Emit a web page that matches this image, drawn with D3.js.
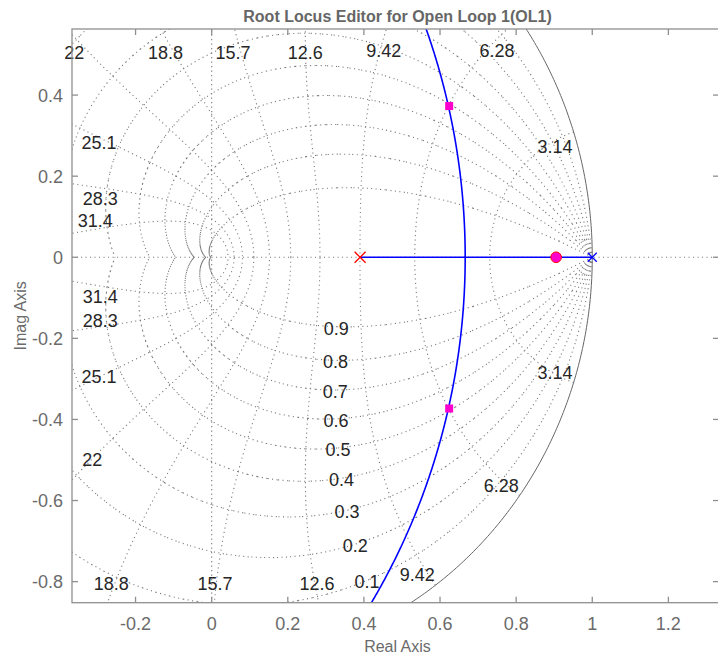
<!DOCTYPE html>
<html><head><meta charset="utf-8">
<script src="https://cdn.jsdelivr.net/npm/d3@7"></script>
<style>
body{margin:0;background:#fff}
svg{display:block}
text{font-family:"Liberation Sans",Arial,Helvetica,sans-serif}
</style>
</head><body>
<svg id="chart" width="718" height="658"></svg>
<script>
// ---------- data ----------
const chartTitle = "Root Locus Editor for Open Loop 1(OL1)";
const xAxisLabel = "Real Axis";
const yAxisLabel = "Imag Axis";
const xDomain = [-0.367, 1.333];
const yDomain = [-0.852, 0.563];
const xTicks = [-0.2, 0, 0.2, 0.4, 0.6, 0.8, 1, 1.2];
const yTicks = [-0.8, -0.6, -0.4, -0.2, 0, 0.2, 0.4];
const xTickLabels = ["-0.2", "0", "0.2", "0.4", "0.6", "0.8", "1", "1.2"];
const yTickLabels = ["-0.8", "-0.6", "-0.4", "-0.2", "0", "0.2", "0.4"];

// z-plane grid (sample time 0.1 s)
const samplePeriod = 0.1;
const dampingValues = [0.1, 0.2, 0.3, 0.4, 0.5, 0.6, 0.7, 0.8, 0.9];
const dampingLabels = ["0.1", "0.2", "0.3", "0.4", "0.5", "0.6", "0.7", "0.8", "0.9"];
const freqSteps = [1, 2, 3, 4, 5, 6, 7, 8, 9, 10];           // wn = k*pi/(10*T)
const freqLabels = ["3.14", "6.28", "9.42", "12.6", "15.7", "18.8", "22", "25.1", "28.3", "31.4"];
const freqLabelUpperRe = [0.902, 0.750, 0.452, 0.246, 0.056, -0.121, -0.361, -0.296, -0.293, -0.306];
const freqLabelUpperIm = [0.272, 0.509, 0.509, 0.506, 0.506, 0.506, 0.506, 0.282, 0.144, 0.090];
const freqLabelLowerRe = [0.902, 0.761, 0.540, 0.277, 0.009, -0.264, -0.314, -0.296, -0.293, -0.293];
const freqLabelLowerIm = [-0.284, -0.564, -0.783, -0.805, -0.805, -0.805, -0.500, -0.293, -0.155, -0.098];

// open loop system
const openLoopPoles = [0.39, 1.0];
const openLoopPoleColors = ["#ff0000", "#0000ff"];
const openLoopZeros = [-0.93];
// closed loop poles (squares) and compensator marker (circle)
const closedLoopRe = [0.624, 0.624];
const closedLoopIm = [0.373, -0.373];
const circleMarkerRe = [0.905];
const circleMarkerIm = [0];

// ---------- layout ----------
const svg = d3.select("#chart");
const L = 72, T = 29, R = 719, B = 602.7;
const x = d3.scaleLinear().domain(xDomain).range([L, R]);
const y = d3.scaleLinear().domain(yDomain).range([B, T]);

svg.append("rect").attr("width", 718).attr("height", 658).attr("fill", "#fff");
svg.append("defs").append("clipPath").attr("id", "clip")
  .append("rect").attr("x", L).attr("y", T).attr("width", R - L).attr("height", B - T);

const plot = svg.append("g").attr("clip-path", "url(#clip)");
const line = d3.line().x(d => x(d[0])).y(d => y(d[1]));
// path whose dash pattern restarts at every vertex
const segPath = pts => pts.slice(1).map((p, i) =>
  `M${x(pts[i][0])},${y(pts[i][1])}L${x(p[0])},${y(p[1])}`).join("");
const gridColor = "#7a7a7a";
const dotted = sel => sel.attr("fill", "none").attr("stroke", gridColor)
  .attr("stroke-width", 1.1).attr("stroke-dasharray", "1.1,3.4");

// axes lines through origin
plot.append("path").datum([[xDomain[0], 0], [xDomain[1], 0]]).attr("d", line).call(dotted);
plot.append("path").datum([[0, yDomain[0]], [0, yDomain[1]]]).attr("d", line).call(dotted);

// constant damping curves
dampingValues.forEach(zeta => {
  const m = zeta / Math.sqrt(1 - zeta * zeta);
  [1, -1].forEach(sgn => {
    const pts = d3.range(0, 73).map(i => {
      const th = Math.PI * i / 72;
      const r = Math.exp(-m * th);
      return [r * Math.cos(th), sgn * r * Math.sin(th)];
    });
    plot.append("path").attr("d", segPath(pts)).call(dotted);
  });
});

// constant natural frequency curves
freqSteps.forEach(k => {
  const wT = k * Math.PI / 10;
  [1, -1].forEach(sgn => {
    const pts = d3.range(0, 301).map(i => {
      const zeta = i / 300;
      const r = Math.exp(-zeta * wT);
      const th = wT * Math.sqrt(1 - zeta * zeta);
      return [r * Math.cos(th), sgn * r * Math.sin(th)];
    });
    plot.append("path").datum(pts).attr("d", line).call(dotted);
  });
});

// unit circle (zeta = 0)
plot.append("path")
  .datum(d3.range(0, 721).map(i => [Math.cos(i * Math.PI / 360), Math.sin(i * Math.PI / 360)]))
  .attr("d", line).attr("fill", "none").attr("stroke", "#666").attr("stroke-width", 1);

// grid labels
const lblG = svg.append("g").attr("font-size", 18).attr("fill", "#262626").attr("text-anchor", "middle");
freqLabels.forEach((t, i) => {
  lblG.append("text").attr("x", x(freqLabelUpperRe[i])).attr("y", y(freqLabelUpperIm[i]))
    .attr("dy", "0.36em").text(t);
  lblG.append("text").attr("x", x(freqLabelLowerRe[i])).attr("y", y(freqLabelLowerIm[i]))
    .attr("dy", "0.36em").text(t);
});
dampingValues.forEach((zeta, i) => {
  const wT = 0.35 * Math.PI;
  const r = Math.exp(-zeta * wT), th = wT * Math.sqrt(1 - zeta * zeta);
  lblG.append("text").attr("x", x(r * Math.cos(th)) - 1).attr("y", y(-r * Math.sin(th)))
    .attr("dy", "0.45em").text(dampingLabels[i]);
});

// ---------- root locus ----------
const p1 = openLoopPoles[0], p2 = openLoopPoles[1], z0 = openLoopZeros[0];
const S = p1 + p2, P = p1 * p2;
// breakaway gains: K^2 + K(4 z0 - 2S) + (S^2 - 4P) = 0
const bb = 4 * z0 - 2 * S, cc = S * S - 4 * P;
const K1 = (-bb - Math.sqrt(bb * bb - 4 * cc)) / 2;
const K2 = (-bb + Math.sqrt(bb * bb - 4 * cc)) / 2;
const roots = K => {
  const b = K - S, c = P - K * z0;
  const disc = b * b - 4 * c;
  if (disc >= 0) {
    const s = Math.sqrt(disc);
    return [[(-b - s) / 2, 0], [(-b + s) / 2, 0]];
  }
  const s = Math.sqrt(-disc);
  return [[-b / 2, s / 2], [-b / 2, -s / 2]];
};
const branchA = [], branchB = [];
d3.range(0, 201).forEach(i => {
  const K = K1 * i / 200;
  const r = roots(K);
  branchA.push(r[0]); branchB.push(r[1]);
});
d3.range(1, 1201).forEach(i => {
  const t = i / 1200;
  const K = K1 + (K2 - K1) * t * t;
  const r = roots(K);
  branchA.push(r[0]); branchB.push(r[1]);
});
[branchA, branchB].forEach(br => {
  plot.append("path").datum(br).attr("d", line)
    .attr("fill", "none").attr("stroke", "#0000ff").attr("stroke-width", 1.6);
});

// open loop poles (x markers)
openLoopPoles.forEach((p, i) => {
  const h = i === 0 ? 5.5 : 4.5;
  const cx = x(p), cy = y(0);
  plot.append("path")
    .attr("d", `M${cx - h},${cy - h}L${cx + h},${cy + h}M${cx - h},${cy + h}L${cx + h},${cy - h}`)
    .attr("stroke", openLoopPoleColors[i]).attr("stroke-width", 1.3).attr("fill", "none");
});

// circle marker
circleMarkerRe.forEach((re, i) => {
  plot.append("circle").attr("cx", x(re)).attr("cy", y(circleMarkerIm[i])).attr("r", 5.3)
    .attr("fill", "#ff00cc").attr("stroke", "#ff0000").attr("stroke-width", 1);
});
// closed-loop poles
closedLoopRe.forEach((re, i) => {
  plot.append("rect").attr("x", x(re) - 4).attr("y", y(closedLoopIm[i]) - 4)
    .attr("width", 8).attr("height", 8).attr("fill", "#ff00cc");
});

// ---------- axes ----------
const axisColor = "#8f8f8f";
const ax = svg.append("g").attr("stroke", axisColor).attr("stroke-width", 1.3).attr("fill", "none");
ax.append("rect").attr("x", L).attr("y", T).attr("width", R - L).attr("height", B - T);
const tl = 6;
xTicks.forEach(v => {
  ax.append("line").attr("x1", x(v)).attr("x2", x(v)).attr("y1", B).attr("y2", B - tl);
  ax.append("line").attr("x1", x(v)).attr("x2", x(v)).attr("y1", T).attr("y2", T + tl);
});
yTicks.forEach(v => {
  ax.append("line").attr("x1", L).attr("x2", L + tl).attr("y1", y(v)).attr("y2", y(v));
  ax.append("line").attr("x1", R).attr("x2", R - tl).attr("y1", y(v)).attr("y2", y(v));
});

const tickG = svg.append("g").attr("font-size", 18).attr("fill", "#6b6b6b");
xTicks.forEach((v, i) => {
  tickG.append("text").attr("x", x(v)).attr("y", B + 21).attr("dy", "0.36em")
    .attr("text-anchor", "middle").text(xTickLabels[i]);
});
yTicks.forEach((v, i) => {
  tickG.append("text").attr("x", L - 9).attr("y", y(v)).attr("dy", "0.36em")
    .attr("text-anchor", "end").text(yTickLabels[i]);
});

svg.append("text").attr("x", 397.5).attr("y", 22).attr("text-anchor", "middle")
  .attr("font-size", 16).attr("font-weight", "bold").attr("fill", "#666").text(chartTitle);
svg.append("text").attr("x", (L + R) / 2 + 2).attr("y", 652).attr("text-anchor", "middle")
  .attr("font-size", 16).attr("fill", "#6b6b6b").text(xAxisLabel);
svg.append("text").attr("transform", `translate(26,${(T + B) / 2}) rotate(-90)`)
  .attr("text-anchor", "middle").attr("font-size", 16).attr("fill", "#6b6b6b").text(yAxisLabel);
</script>
</body></html>
